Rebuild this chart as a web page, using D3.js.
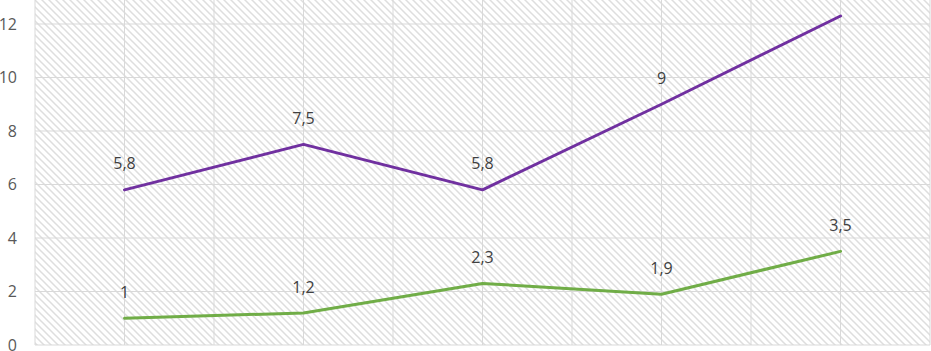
<!DOCTYPE html>
<html>
<head>
<meta charset="utf-8">
<script src="https://cdn.jsdelivr.net/npm/d3@7"></script>
<style>
    body { margin: 0; background: #ffffff; }
    svg  { display: block; font-family: "Open Sans", "Liberation Sans", sans-serif; }
</style>
</head>
<body>
<svg id="line_chart" width="931" height="351"></svg>
<script>
// chart values
const categories   = ["A", "B", "C", "D", "E"];
const purpleValues = [5.8, 7.5, 5.8, 9, 12.3];
const greenValues  = [1, 1.2, 2.3, 1.9, 3.5];
const purpleLabels = ["5,8", "7,5", "5,8", "9", ""];   // last label sits above the visible area
const greenLabels  = ["1", "1,2", "2,3", "1,9", "3,5"];
const yTicks       = [0, 2, 4, 6, 8, 10, 12, 14];
const yTickLabels  = ["0", "2", "4", "6", "8", "10", "12", ""];

const svg = d3.select("#line_chart");

const plot = { left: 35, right: 930, top: -29.5, bottom: 345 };

// hatch pattern for the plot background
const defs = svg.append("defs");
const pattern = defs.append("pattern")
    .attr("id", "hatch")
    .attr("patternUnits", "userSpaceOnUse")
    .attr("width", 7)
    .attr("height", 7);

pattern.append("rect")
    .attr("width", 7)
    .attr("height", 7)
    .attr("fill", "#ffffff");

pattern.append("path")
    .attr("d", "M-1,-1 L8,8 M-4,3 L3,10 M3,-4 L10,3")
    .attr("stroke", "#dedede")
    .attr("stroke-width", 1.5);

const x = d3.scaleBand()
    .domain(categories)
    .range([plot.left, plot.right])
    .padding(0);

const y = d3.scaleLinear()
    .domain([0, 14])
    .range([plot.bottom, plot.top]);

const cx = d => x(d) + x.bandwidth() / 2;

svg.append("rect")
    .attr("x", plot.left)
    .attr("y", plot.top)
    .attr("width", plot.right - plot.left)
    .attr("height", plot.bottom - plot.top)
    .attr("fill", "url(#hatch)");

// vertical gridlines at band edges and band centres
const vLines = [];
categories.forEach(c =>
{
    vLines.push(x(c));
    vLines.push(cx(c));
});
vLines.push(plot.right);

svg.append("g")
    .selectAll("line")
    .data(vLines)
    .join("line")
    .attr("x1", d => d)
    .attr("x2", d => d)
    .attr("y1", plot.top)
    .attr("y2", plot.bottom)
    .attr("stroke", "#d9d9d9")
    .attr("stroke-width", 1);

// horizontal gridlines
svg.append("g")
    .selectAll("line")
    .data(yTicks)
    .join("line")
    .attr("x1", plot.left)
    .attr("x2", plot.right)
    .attr("y1", d => y(d))
    .attr("y2", d => y(d))
    .attr("stroke", "#d9d9d9")
    .attr("stroke-width", 1);

// y axis labels
svg.append("g")
    .selectAll("text")
    .data(yTicks)
    .join("text")
    .attr("x", 17)
    .attr("y", d => y(d))
    .attr("dy", "0.35em")
    .attr("text-anchor", "end")
    .attr("font-size", 16)
    .attr("fill", "#595959")
    .text((d, i) => yTickLabels[i]);

const line = d3.line()
    .x((d, i) => cx(categories[i]))
    .y(d => y(d));

function drawSeries(values, labels, color)
{
    svg.append("path")
        .datum(values)
        .attr("d", line)
        .attr("fill", "none")
        .attr("stroke", color)
        .attr("stroke-width", 3)
        .attr("stroke-linejoin", "round")
        .attr("stroke-linecap", "round");

    svg.append("g")
        .selectAll("text")
        .data(values)
        .join("text")
        .attr("x", (d, i) => cx(categories[i]))
        .attr("y", d => y(d) - 26)
        .attr("dy", "0.35em")
        .attr("text-anchor", "middle")
        .attr("font-size", 16)
        .attr("fill", "#404040")
        .text((d, i) => labels[i]);
}

drawSeries(purpleValues, purpleLabels, "#7030a0");
drawSeries(greenValues,  greenLabels,  "#70ad47");
</script>
</body>
</html>
